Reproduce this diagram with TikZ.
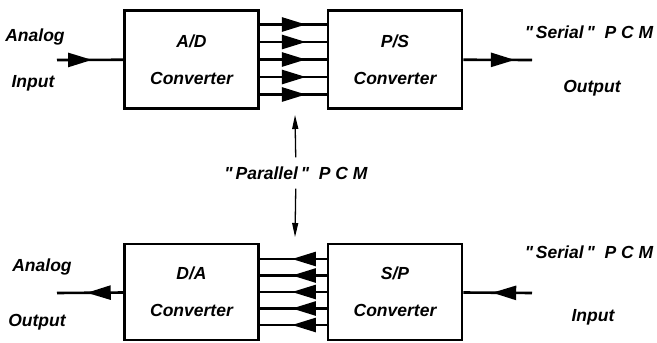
\documentclass[tikz,border=0pt]{standalone}
\usepackage{fontspec}
\setmainfont{Liberation Sans}
\usetikzlibrary{arrows.meta, positioning, decorations.markings}

\begin{document}
\begin{tikzpicture}[
    x=1pt, y=-1pt,
    conv/.style={rectangle, draw, line width=2.8pt, minimum width=134pt, minimum height=#1, align=center, font=\fontsize{17.5pt}{37pt}\selectfont\bfseries\itshape},
    lbl/.style={font=\fontsize{17.5pt}{21pt}\selectfont\bfseries\itshape, inner sep=0pt},
    wire/.style={line width=2.6pt, postaction={decorate}, decoration={markings, mark=at position #1 with {\arrow{Triangle[length=24pt, width=14pt]}}}},
    thinarrow/.style={-{Triangle[length=14pt, width=6pt]}, line width=1.3pt},
]
    \useasboundingbox (0,0) rectangle (657,343);

    % Converter boxes
    \node[conv=98pt] (ad) at (191.5,59.5) {A/D\\Converter};
    \node[conv=98pt] (ps) at (395,59.5) {P/S\\Converter};
    \node[conv=96pt] (da) at (191.5,292) {D/A\\Converter};
    \node[conv=96pt] (sp) at (395,292) {S/P\\Converter};

    % Free ends
    \coordinate (ain) at (57,60);
    \coordinate (sout) at (532,60);
    \coordinate (aout) at (57,293);
    \coordinate (sin) at (532,293);

    % Outer labels
    \node[lbl] (ainA) at (35,37) {Analog};
    \node[lbl] (ainB) at (33,83) {Input};
    \node[lbl] (soutA) at (589,32) {\textquotedbl\,Serial\,\textquotedbl\ \ P C M};
    \node[lbl] (soutB) at (592,88) {Output};
    \node[lbl] (aoutA) at (42,267) {Analog};
    \node[lbl] (aoutB) at (37,322) {Output};
    \node[lbl] (sinA) at (589,252) {\textquotedbl\,Serial\,\textquotedbl\ \ P C M};
    \node[lbl] (sinB) at (593,317) {Input};

    % Serial lines
    \draw[wire=0.53] (ain) -- (ad);
    \draw[wire=0.75] (ps) -- (sout);
    \draw[wire=0.55] (da) -- (aout);
    \draw[wire=0.58] (sin) -- (sp);

    % Parallel buses
    \foreach \dy in {-2,...,2} {
        \draw[wire=0.69] ([yshift=\dy*17.5pt]ad.east) -- ([yshift=\dy*17.5pt]ps.west);
        \draw[wire=0.52] ([yshift=\dy*16.5pt]sp.west) -- ([yshift=\dy*16.5pt]da.east);
    }

    % Parallel PCM
    \node[lbl, inner ysep=9pt] (par) at (296,173) {\textquotedbl\,Parallel\,\textquotedbl\ \ P C M};
    \coordinate (partop) at (295,115);
    \coordinate (parbot) at (295,237);
    \draw[thinarrow] (par) -- (partop);
    \draw[thinarrow] (par) -- (parbot);

\end{tikzpicture}
\end{document}
